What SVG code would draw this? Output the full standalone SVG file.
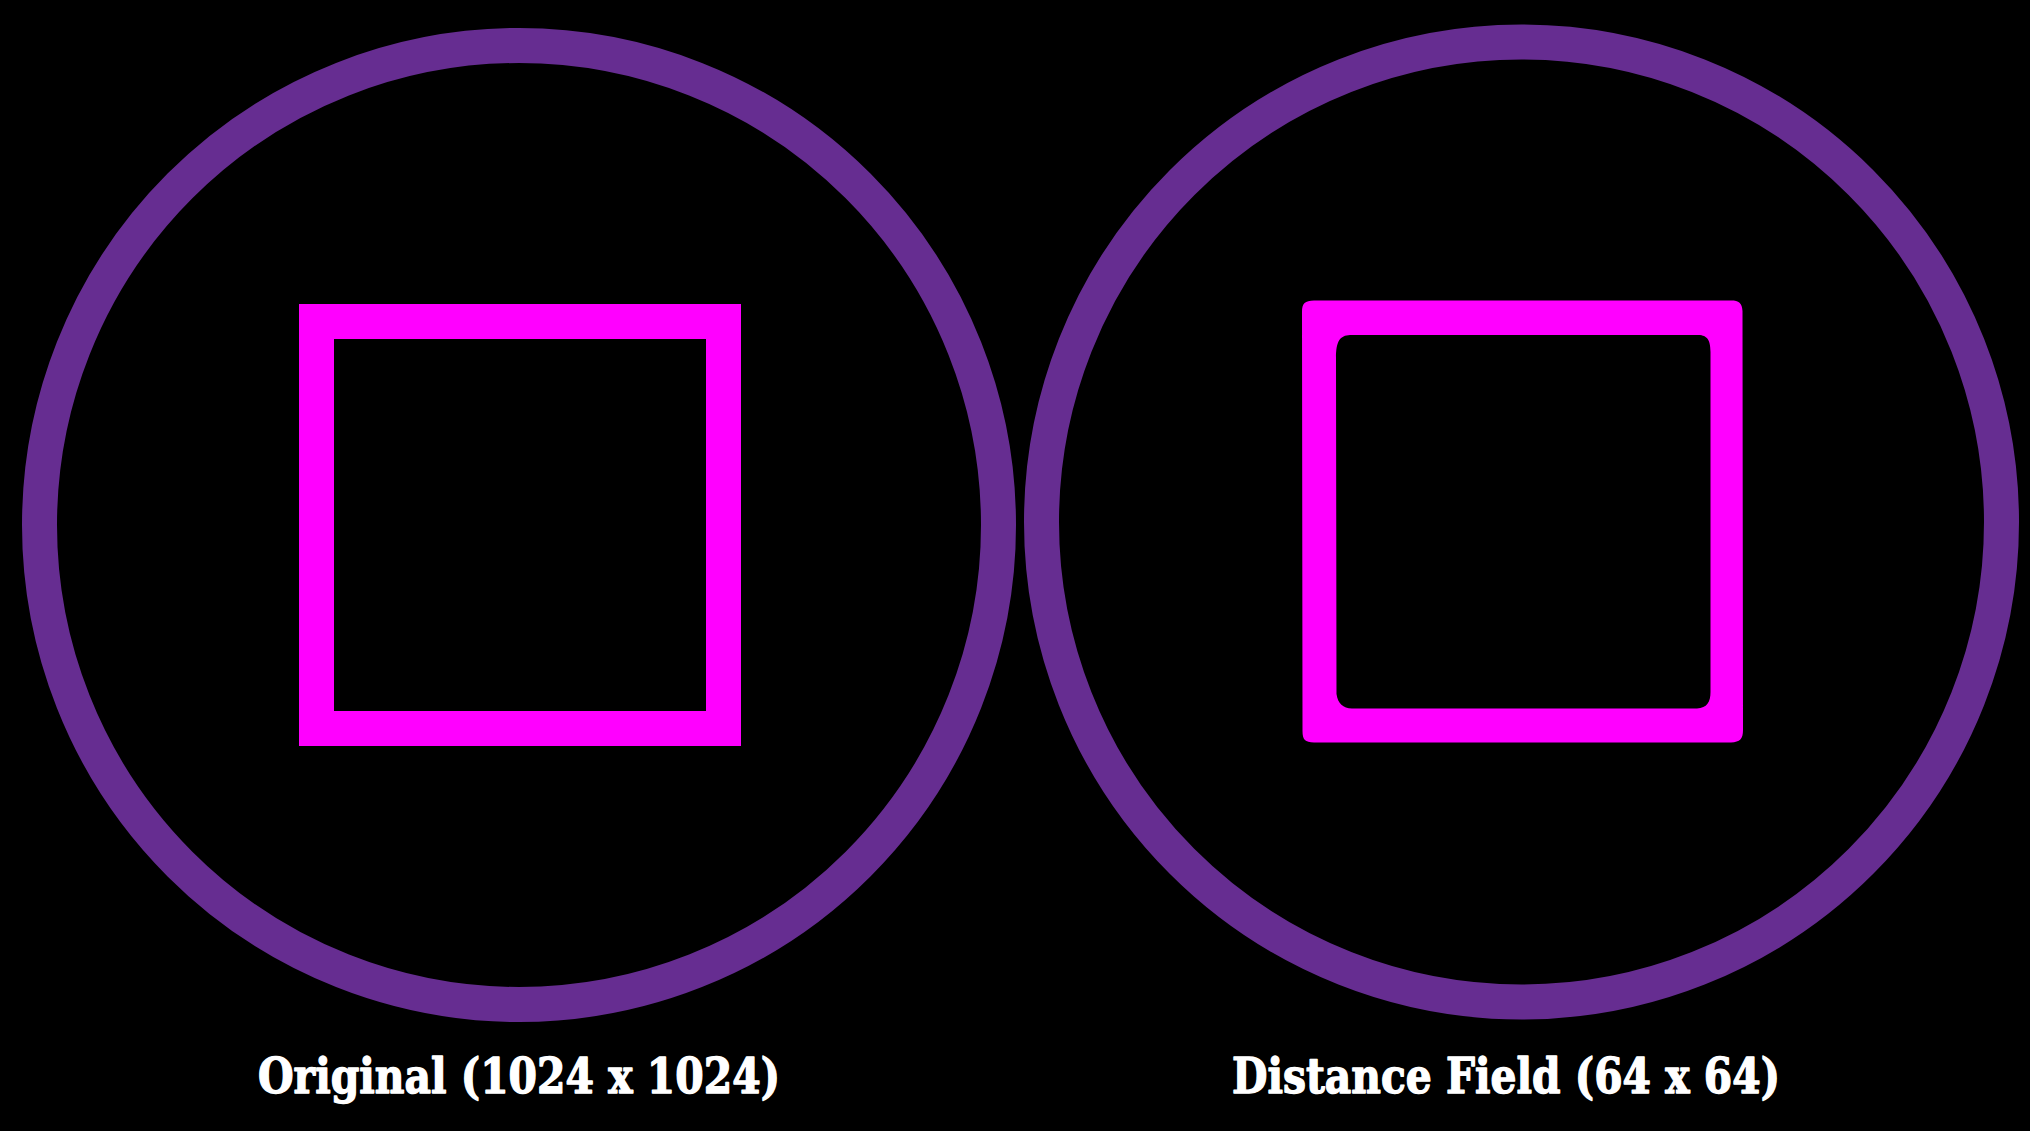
<svg xmlns="http://www.w3.org/2000/svg" width="2030" height="1131" viewBox="0 0 2030 1131">
<style>
.ring{fill:none;stroke:#662d91;stroke-width:35}
.sq{fill:#ff00ff}
.lbl{font-family:"DejaVu Serif","Liberation Serif",serif;font-weight:bold;font-size:48px;fill:#ffffff;stroke:#ffffff;stroke-width:1.4;stroke-linejoin:round;text-anchor:middle}
</style>
<rect x="0" y="0" width="2030" height="1131" fill="#000000"/>
<g id="original">
<circle class="ring" cx="519" cy="525" r="479.5"/>
<rect x="316.5" y="321.5" width="407" height="407" fill="none" stroke="#ff00ff" stroke-width="35"/>
<text class="lbl" x="519" y="1093" textLength="522" lengthAdjust="spacingAndGlyphs">Original (1024 x 1024)</text>
</g>
<g id="distance-field">
<circle class="ring" cx="1521.5" cy="522" r="480"/>
<path class="sq" fill-rule="evenodd" d="M1314,300.5 L1731,300.5 C1739,300.5 1742,303 1742.5,311 L1743,730 C1743,739 1740,742 1731,742.5 L1314,742.5 C1305,742 1302.5,740 1302.5,731 L1302,312 C1302,303 1305,301 1314,300.5 Z M1350,335 L1697,335 C1706,335 1710.5,338 1710.5,352 L1710.5,692 C1710.5,702 1707,708 1697,708.5 L1352,708.5 C1343,708 1338,704 1336.5,694 L1336,358 C1336,341 1340,335.5 1350,335 Z"/>
<text class="lbl" x="1506" y="1093" textLength="548" lengthAdjust="spacingAndGlyphs">Distance Field (64 x 64)</text>
</g>
<g id="connectors"></g>
</svg>
